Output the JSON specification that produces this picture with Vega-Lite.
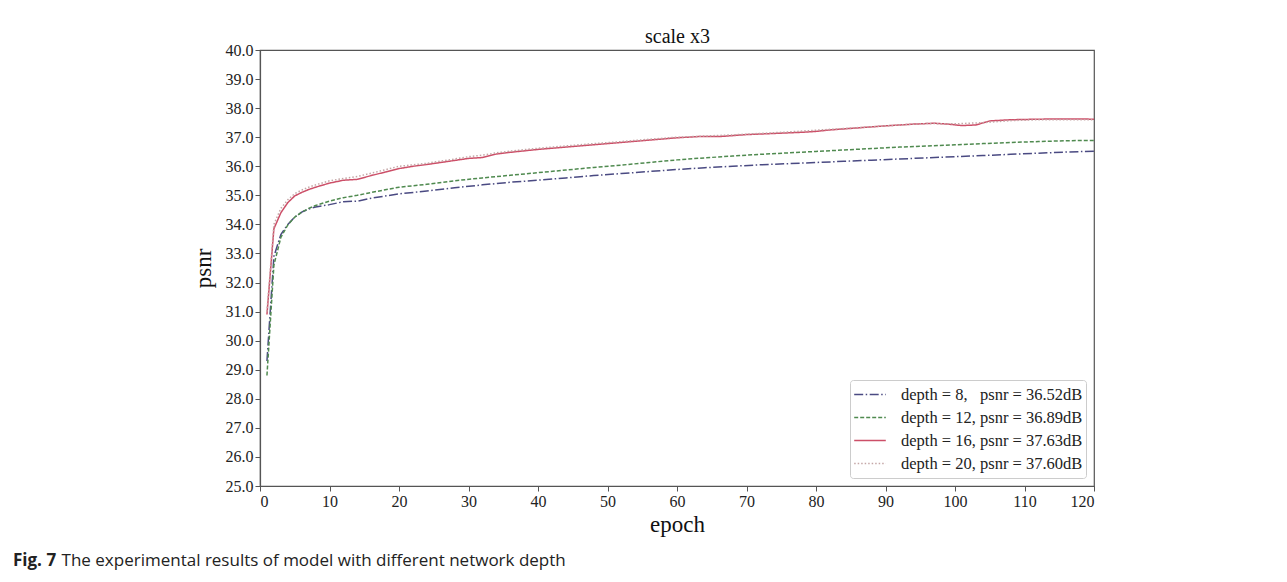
{
  "$schema": "https://vega.github.io/schema/vega-lite/v6.json",
  "background": "white",
  "padding": {"left": 13, "top": 26, "right": 5, "bottom": 5},
  "width": 834,
  "height": 436,
  "title": {"text": "Fig. 7", "subtitle": "\u200b\u00a0\u00a0\u00a0\u00a0\u00a0\u00a0\u00a0\u00a0\u00a0\u00a0\u00a0The experimental results of model with different network depth", "orient": "bottom", "anchor": "start", "frame": "group", "dx": -247, "offset": 17, "font": "Open Sans", "fontSize": 17, "fontWeight": "bold", "color": "#222", "subtitleFont": "Open Sans", "subtitleFontSize": 17, "subtitleFontWeight": "normal", "subtitleColor": "#222", "subtitlePadding": -17},
  "config": {
    "view": {"stroke": "#555", "strokeWidth": 1.2},
    "axis": {"labelFont": "Liberation Serif", "labelFontSize": 16, "labelColor": "#222", "titleFont": "Liberation Serif", "titleFontSize": 23, "titleFontWeight": "normal", "titleColor": "#111", "domainColor": "#555", "domainWidth": 1.2, "tickColor": "#555", "tickSize": 5, "labelPadding": 2, "grid": false},
    "legend": {"orient": "bottom-right", "offset": 8, "padding": 3, "strokeColor": "#ccc", "fillColor": "white", "cornerRadius": 3, "labelFont": "Liberation Serif", "labelFontSize": 16.5, "labelColor": "#222", "symbolType": "stroke", "symbolSize": 1000, "symbolStrokeWidth": 1.5, "rowPadding": 0, "clipHeight": 23, "labelOffset": 14, "labelLimit": 400}
  },
  "resolve": {"axis": {"x": "independent"}},
  "layer": [
    {
      "data": {"values": [
        {"series": "depth = 8,\u00a0\u00a0 psnr = 36.52dB", "epoch": 1, "psnr": 29.3},
        {"series": "depth = 8,\u00a0\u00a0 psnr = 36.52dB", "epoch": 2, "psnr": 32.9},
        {"series": "depth = 8,\u00a0\u00a0 psnr = 36.52dB", "epoch": 3, "psnr": 33.65},
        {"series": "depth = 8,\u00a0\u00a0 psnr = 36.52dB", "epoch": 4, "psnr": 34.0},
        {"series": "depth = 8,\u00a0\u00a0 psnr = 36.52dB", "epoch": 5, "psnr": 34.25},
        {"series": "depth = 8,\u00a0\u00a0 psnr = 36.52dB", "epoch": 6, "psnr": 34.42},
        {"series": "depth = 8,\u00a0\u00a0 psnr = 36.52dB", "epoch": 7, "psnr": 34.53},
        {"series": "depth = 8,\u00a0\u00a0 psnr = 36.52dB", "epoch": 8, "psnr": 34.6},
        {"series": "depth = 8,\u00a0\u00a0 psnr = 36.52dB", "epoch": 10, "psnr": 34.68},
        {"series": "depth = 8,\u00a0\u00a0 psnr = 36.52dB", "epoch": 12, "psnr": 34.78},
        {"series": "depth = 8,\u00a0\u00a0 psnr = 36.52dB", "epoch": 14, "psnr": 34.8},
        {"series": "depth = 8,\u00a0\u00a0 psnr = 36.52dB", "epoch": 16, "psnr": 34.9},
        {"series": "depth = 8,\u00a0\u00a0 psnr = 36.52dB", "epoch": 20, "psnr": 35.05},
        {"series": "depth = 8,\u00a0\u00a0 psnr = 36.52dB", "epoch": 24, "psnr": 35.15},
        {"series": "depth = 8,\u00a0\u00a0 psnr = 36.52dB", "epoch": 28, "psnr": 35.26},
        {"series": "depth = 8,\u00a0\u00a0 psnr = 36.52dB", "epoch": 32, "psnr": 35.36},
        {"series": "depth = 8,\u00a0\u00a0 psnr = 36.52dB", "epoch": 36, "psnr": 35.45},
        {"series": "depth = 8,\u00a0\u00a0 psnr = 36.52dB", "epoch": 40, "psnr": 35.52},
        {"series": "depth = 8,\u00a0\u00a0 psnr = 36.52dB", "epoch": 44, "psnr": 35.6},
        {"series": "depth = 8,\u00a0\u00a0 psnr = 36.52dB", "epoch": 48, "psnr": 35.68},
        {"series": "depth = 8,\u00a0\u00a0 psnr = 36.52dB", "epoch": 52, "psnr": 35.75},
        {"series": "depth = 8,\u00a0\u00a0 psnr = 36.52dB", "epoch": 56, "psnr": 35.82},
        {"series": "depth = 8,\u00a0\u00a0 psnr = 36.52dB", "epoch": 60, "psnr": 35.89},
        {"series": "depth = 8,\u00a0\u00a0 psnr = 36.52dB", "epoch": 64, "psnr": 35.95},
        {"series": "depth = 8,\u00a0\u00a0 psnr = 36.52dB", "epoch": 68, "psnr": 36.0},
        {"series": "depth = 8,\u00a0\u00a0 psnr = 36.52dB", "epoch": 72, "psnr": 36.05},
        {"series": "depth = 8,\u00a0\u00a0 psnr = 36.52dB", "epoch": 76, "psnr": 36.09},
        {"series": "depth = 8,\u00a0\u00a0 psnr = 36.52dB", "epoch": 80, "psnr": 36.13},
        {"series": "depth = 8,\u00a0\u00a0 psnr = 36.52dB", "epoch": 84, "psnr": 36.17},
        {"series": "depth = 8,\u00a0\u00a0 psnr = 36.52dB", "epoch": 88, "psnr": 36.21},
        {"series": "depth = 8,\u00a0\u00a0 psnr = 36.52dB", "epoch": 92, "psnr": 36.25},
        {"series": "depth = 8,\u00a0\u00a0 psnr = 36.52dB", "epoch": 96, "psnr": 36.29},
        {"series": "depth = 8,\u00a0\u00a0 psnr = 36.52dB", "epoch": 100, "psnr": 36.33},
        {"series": "depth = 8,\u00a0\u00a0 psnr = 36.52dB", "epoch": 104, "psnr": 36.37},
        {"series": "depth = 8,\u00a0\u00a0 psnr = 36.52dB", "epoch": 108, "psnr": 36.41},
        {"series": "depth = 8,\u00a0\u00a0 psnr = 36.52dB", "epoch": 112, "psnr": 36.45},
        {"series": "depth = 8,\u00a0\u00a0 psnr = 36.52dB", "epoch": 116, "psnr": 36.49},
        {"series": "depth = 8,\u00a0\u00a0 psnr = 36.52dB", "epoch": 120, "psnr": 36.52},

        {"series": "depth = 12, psnr = 36.89dB", "epoch": 1, "psnr": 28.8},
        {"series": "depth = 12, psnr = 36.89dB", "epoch": 2, "psnr": 32.6},
        {"series": "depth = 12, psnr = 36.89dB", "epoch": 3, "psnr": 33.55},
        {"series": "depth = 12, psnr = 36.89dB", "epoch": 4, "psnr": 33.98},
        {"series": "depth = 12, psnr = 36.89dB", "epoch": 5, "psnr": 34.25},
        {"series": "depth = 12, psnr = 36.89dB", "epoch": 6, "psnr": 34.42},
        {"series": "depth = 12, psnr = 36.89dB", "epoch": 7, "psnr": 34.55},
        {"series": "depth = 12, psnr = 36.89dB", "epoch": 8, "psnr": 34.65},
        {"series": "depth = 12, psnr = 36.89dB", "epoch": 10, "psnr": 34.8},
        {"series": "depth = 12, psnr = 36.89dB", "epoch": 12, "psnr": 34.92},
        {"series": "depth = 12, psnr = 36.89dB", "epoch": 14, "psnr": 35.0},
        {"series": "depth = 12, psnr = 36.89dB", "epoch": 16, "psnr": 35.1},
        {"series": "depth = 12, psnr = 36.89dB", "epoch": 20, "psnr": 35.28},
        {"series": "depth = 12, psnr = 36.89dB", "epoch": 24, "psnr": 35.38},
        {"series": "depth = 12, psnr = 36.89dB", "epoch": 28, "psnr": 35.5},
        {"series": "depth = 12, psnr = 36.89dB", "epoch": 32, "psnr": 35.6},
        {"series": "depth = 12, psnr = 36.89dB", "epoch": 36, "psnr": 35.69},
        {"series": "depth = 12, psnr = 36.89dB", "epoch": 40, "psnr": 35.78},
        {"series": "depth = 12, psnr = 36.89dB", "epoch": 44, "psnr": 35.87},
        {"series": "depth = 12, psnr = 36.89dB", "epoch": 48, "psnr": 35.96},
        {"series": "depth = 12, psnr = 36.89dB", "epoch": 52, "psnr": 36.04},
        {"series": "depth = 12, psnr = 36.89dB", "epoch": 56, "psnr": 36.13},
        {"series": "depth = 12, psnr = 36.89dB", "epoch": 60, "psnr": 36.22},
        {"series": "depth = 12, psnr = 36.89dB", "epoch": 64, "psnr": 36.29},
        {"series": "depth = 12, psnr = 36.89dB", "epoch": 68, "psnr": 36.35},
        {"series": "depth = 12, psnr = 36.89dB", "epoch": 72, "psnr": 36.41},
        {"series": "depth = 12, psnr = 36.89dB", "epoch": 76, "psnr": 36.46},
        {"series": "depth = 12, psnr = 36.89dB", "epoch": 80, "psnr": 36.51},
        {"series": "depth = 12, psnr = 36.89dB", "epoch": 84, "psnr": 36.56},
        {"series": "depth = 12, psnr = 36.89dB", "epoch": 88, "psnr": 36.61},
        {"series": "depth = 12, psnr = 36.89dB", "epoch": 92, "psnr": 36.66},
        {"series": "depth = 12, psnr = 36.89dB", "epoch": 96, "psnr": 36.7},
        {"series": "depth = 12, psnr = 36.89dB", "epoch": 100, "psnr": 36.74},
        {"series": "depth = 12, psnr = 36.89dB", "epoch": 104, "psnr": 36.78},
        {"series": "depth = 12, psnr = 36.89dB", "epoch": 108, "psnr": 36.82},
        {"series": "depth = 12, psnr = 36.89dB", "epoch": 112, "psnr": 36.85},
        {"series": "depth = 12, psnr = 36.89dB", "epoch": 116, "psnr": 36.88},
        {"series": "depth = 12, psnr = 36.89dB", "epoch": 120, "psnr": 36.89},

        {"series": "depth = 16, psnr = 37.63dB", "epoch": 1, "psnr": 30.9},
        {"series": "depth = 16, psnr = 37.63dB", "epoch": 2, "psnr": 33.85},
        {"series": "depth = 16, psnr = 37.63dB", "epoch": 3, "psnr": 34.4},
        {"series": "depth = 16, psnr = 37.63dB", "epoch": 4, "psnr": 34.75},
        {"series": "depth = 16, psnr = 37.63dB", "epoch": 5, "psnr": 34.98},
        {"series": "depth = 16, psnr = 37.63dB", "epoch": 6, "psnr": 35.1},
        {"series": "depth = 16, psnr = 37.63dB", "epoch": 7, "psnr": 35.2},
        {"series": "depth = 16, psnr = 37.63dB", "epoch": 8, "psnr": 35.28},
        {"series": "depth = 16, psnr = 37.63dB", "epoch": 10, "psnr": 35.42},
        {"series": "depth = 16, psnr = 37.63dB", "epoch": 12, "psnr": 35.52},
        {"series": "depth = 16, psnr = 37.63dB", "epoch": 14, "psnr": 35.55},
        {"series": "depth = 16, psnr = 37.63dB", "epoch": 16, "psnr": 35.68},
        {"series": "depth = 16, psnr = 37.63dB", "epoch": 18, "psnr": 35.8},
        {"series": "depth = 16, psnr = 37.63dB", "epoch": 20, "psnr": 35.92},
        {"series": "depth = 16, psnr = 37.63dB", "epoch": 22, "psnr": 36.0},
        {"series": "depth = 16, psnr = 37.63dB", "epoch": 24, "psnr": 36.06},
        {"series": "depth = 16, psnr = 37.63dB", "epoch": 26, "psnr": 36.13},
        {"series": "depth = 16, psnr = 37.63dB", "epoch": 28, "psnr": 36.2},
        {"series": "depth = 16, psnr = 37.63dB", "epoch": 30, "psnr": 36.27},
        {"series": "depth = 16, psnr = 37.63dB", "epoch": 32, "psnr": 36.3},
        {"series": "depth = 16, psnr = 37.63dB", "epoch": 34, "psnr": 36.42},
        {"series": "depth = 16, psnr = 37.63dB", "epoch": 36, "psnr": 36.48},
        {"series": "depth = 16, psnr = 37.63dB", "epoch": 40, "psnr": 36.58},
        {"series": "depth = 16, psnr = 37.63dB", "epoch": 44, "psnr": 36.66},
        {"series": "depth = 16, psnr = 37.63dB", "epoch": 48, "psnr": 36.74},
        {"series": "depth = 16, psnr = 37.63dB", "epoch": 52, "psnr": 36.82},
        {"series": "depth = 16, psnr = 37.63dB", "epoch": 56, "psnr": 36.9},
        {"series": "depth = 16, psnr = 37.63dB", "epoch": 60, "psnr": 36.98},
        {"series": "depth = 16, psnr = 37.63dB", "epoch": 63, "psnr": 37.02},
        {"series": "depth = 16, psnr = 37.63dB", "epoch": 66, "psnr": 37.02},
        {"series": "depth = 16, psnr = 37.63dB", "epoch": 70, "psnr": 37.09},
        {"series": "depth = 16, psnr = 37.63dB", "epoch": 74, "psnr": 37.13},
        {"series": "depth = 16, psnr = 37.63dB", "epoch": 78, "psnr": 37.17},
        {"series": "depth = 16, psnr = 37.63dB", "epoch": 80, "psnr": 37.2},
        {"series": "depth = 16, psnr = 37.63dB", "epoch": 82, "psnr": 37.25},
        {"series": "depth = 16, psnr = 37.63dB", "epoch": 86, "psnr": 37.32},
        {"series": "depth = 16, psnr = 37.63dB", "epoch": 90, "psnr": 37.39},
        {"series": "depth = 16, psnr = 37.63dB", "epoch": 94, "psnr": 37.45},
        {"series": "depth = 16, psnr = 37.63dB", "epoch": 97, "psnr": 37.48},
        {"series": "depth = 16, psnr = 37.63dB", "epoch": 99, "psnr": 37.45},
        {"series": "depth = 16, psnr = 37.63dB", "epoch": 101, "psnr": 37.4},
        {"series": "depth = 16, psnr = 37.63dB", "epoch": 103, "psnr": 37.42},
        {"series": "depth = 16, psnr = 37.63dB", "epoch": 105, "psnr": 37.56},
        {"series": "depth = 16, psnr = 37.63dB", "epoch": 108, "psnr": 37.6},
        {"series": "depth = 16, psnr = 37.63dB", "epoch": 112, "psnr": 37.62},
        {"series": "depth = 16, psnr = 37.63dB", "epoch": 116, "psnr": 37.63},
        {"series": "depth = 16, psnr = 37.63dB", "epoch": 120, "psnr": 37.62},

        {"series": "depth = 20, psnr = 37.60dB", "epoch": 1, "psnr": 31.0},
        {"series": "depth = 20, psnr = 37.60dB", "epoch": 2, "psnr": 34.0},
        {"series": "depth = 20, psnr = 37.60dB", "epoch": 3, "psnr": 34.55},
        {"series": "depth = 20, psnr = 37.60dB", "epoch": 4, "psnr": 34.85},
        {"series": "depth = 20, psnr = 37.60dB", "epoch": 5, "psnr": 35.06},
        {"series": "depth = 20, psnr = 37.60dB", "epoch": 6, "psnr": 35.18},
        {"series": "depth = 20, psnr = 37.60dB", "epoch": 7, "psnr": 35.28},
        {"series": "depth = 20, psnr = 37.60dB", "epoch": 8, "psnr": 35.36},
        {"series": "depth = 20, psnr = 37.60dB", "epoch": 10, "psnr": 35.5},
        {"series": "depth = 20, psnr = 37.60dB", "epoch": 12, "psnr": 35.58},
        {"series": "depth = 20, psnr = 37.60dB", "epoch": 14, "psnr": 35.65},
        {"series": "depth = 20, psnr = 37.60dB", "epoch": 16, "psnr": 35.76},
        {"series": "depth = 20, psnr = 37.60dB", "epoch": 18, "psnr": 35.88},
        {"series": "depth = 20, psnr = 37.60dB", "epoch": 20, "psnr": 36.0},
        {"series": "depth = 20, psnr = 37.60dB", "epoch": 22, "psnr": 36.05},
        {"series": "depth = 20, psnr = 37.60dB", "epoch": 24, "psnr": 36.1},
        {"series": "depth = 20, psnr = 37.60dB", "epoch": 26, "psnr": 36.18},
        {"series": "depth = 20, psnr = 37.60dB", "epoch": 28, "psnr": 36.25},
        {"series": "depth = 20, psnr = 37.60dB", "epoch": 30, "psnr": 36.33},
        {"series": "depth = 20, psnr = 37.60dB", "epoch": 32, "psnr": 36.38},
        {"series": "depth = 20, psnr = 37.60dB", "epoch": 34, "psnr": 36.46},
        {"series": "depth = 20, psnr = 37.60dB", "epoch": 36, "psnr": 36.52},
        {"series": "depth = 20, psnr = 37.60dB", "epoch": 40, "psnr": 36.62},
        {"series": "depth = 20, psnr = 37.60dB", "epoch": 44, "psnr": 36.7},
        {"series": "depth = 20, psnr = 37.60dB", "epoch": 48, "psnr": 36.78},
        {"series": "depth = 20, psnr = 37.60dB", "epoch": 52, "psnr": 36.85},
        {"series": "depth = 20, psnr = 37.60dB", "epoch": 56, "psnr": 36.93},
        {"series": "depth = 20, psnr = 37.60dB", "epoch": 60, "psnr": 37.0},
        {"series": "depth = 20, psnr = 37.60dB", "epoch": 64, "psnr": 37.04},
        {"series": "depth = 20, psnr = 37.60dB", "epoch": 68, "psnr": 37.08},
        {"series": "depth = 20, psnr = 37.60dB", "epoch": 72, "psnr": 37.13},
        {"series": "depth = 20, psnr = 37.60dB", "epoch": 76, "psnr": 37.18},
        {"series": "depth = 20, psnr = 37.60dB", "epoch": 80, "psnr": 37.24},
        {"series": "depth = 20, psnr = 37.60dB", "epoch": 84, "psnr": 37.3},
        {"series": "depth = 20, psnr = 37.60dB", "epoch": 88, "psnr": 37.36},
        {"series": "depth = 20, psnr = 37.60dB", "epoch": 92, "psnr": 37.42},
        {"series": "depth = 20, psnr = 37.60dB", "epoch": 96, "psnr": 37.47},
        {"series": "depth = 20, psnr = 37.60dB", "epoch": 100, "psnr": 37.46},
        {"series": "depth = 20, psnr = 37.60dB", "epoch": 104, "psnr": 37.5},
        {"series": "depth = 20, psnr = 37.60dB", "epoch": 108, "psnr": 37.57},
        {"series": "depth = 20, psnr = 37.60dB", "epoch": 112, "psnr": 37.6},
        {"series": "depth = 20, psnr = 37.60dB", "epoch": 116, "psnr": 37.6},
        {"series": "depth = 20, psnr = 37.60dB", "epoch": 120, "psnr": 37.6}
      ]},
      "mark": {"type": "line", "strokeWidth": 1.5},
      "encoding": {
        "x": {"field": "epoch", "type": "quantitative", "scale": {"domain": [0, 120], "nice": false, "zero": false},
              "axis": {"values": [0, 10, 20, 30, 40, 50, 60, 70, 80, 90, 100, 110, 120], "title": "epoch", "titlePadding": 4}},
        "y": {"field": "psnr", "type": "quantitative", "scale": {"domain": [25, 40], "nice": false, "zero": false},
              "axis": {"values": [25, 26, 27, 28, 29, 30, 31, 32, 33, 34, 35, 36, 37, 38, 39, 40], "format": ".1f", "title": "psnr", "titlePadding": 10}},
        "color": {"field": "series", "type": "nominal",
                  "scale": {"domain": ["depth = 8,\u00a0\u00a0 psnr = 36.52dB", "depth = 12, psnr = 36.89dB", "depth = 16, psnr = 37.63dB", "depth = 20, psnr = 37.60dB"],
                            "range": ["#4a4a82", "#4f8a4f", "#cc4f68", "#c4a6a6"]},
                  "legend": {"title": null}},
        "strokeDash": {"field": "series", "type": "nominal",
                  "scale": {"domain": ["depth = 8,\u00a0\u00a0 psnr = 36.52dB", "depth = 12, psnr = 36.89dB", "depth = 16, psnr = 37.63dB", "depth = 20, psnr = 37.60dB"],
                            "range": [[9, 2.5, 1.5, 2.5], [4, 2], [1, 0], [1.5, 2]]},
                  "legend": {"title": null}}
      }
    },
    {
      "data": {"values": [{"epoch": 0}]},
      "mark": {"type": "rule", "opacity": 0},
      "encoding": {
        "x": {"field": "epoch", "type": "quantitative",
              "axis": {"orient": "top", "title": "scale x3", "labels": false, "ticks": false, "domain": false, "titleFontSize": 20, "titlePadding": 4}}
      }
    }
  ]
}
